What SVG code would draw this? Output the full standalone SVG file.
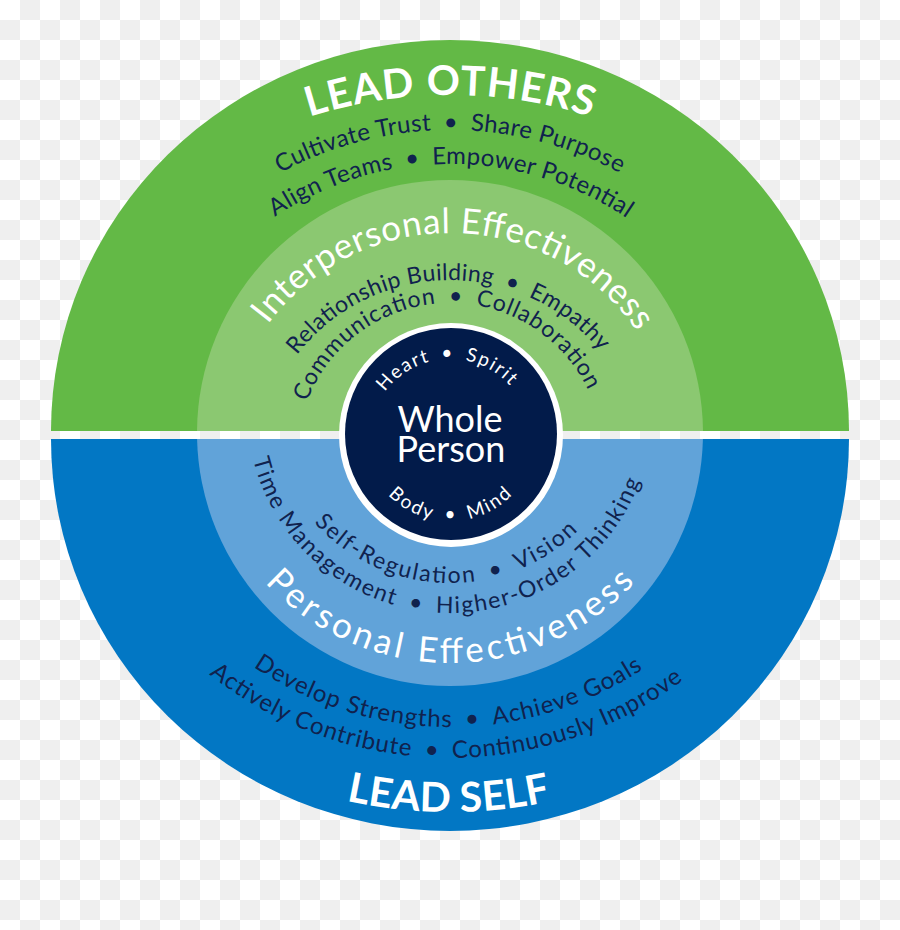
<svg xmlns="http://www.w3.org/2000/svg" xmlns:xlink="http://www.w3.org/1999/xlink" width="900" height="930" viewBox="0 0 900 930">
<style>
.t{font-family:Lato,'Open Sans','Liberation Sans',sans-serif;}
.w{fill:#ffffff;}
.d{fill:#10224e;}
.big{font-size:41px;font-weight:700;}
.mid{font-size:35px;}
.sm{font-size:24px;}
.xs{font-size:23px;}
.core{font-size:19px;}
.name{font-size:36px;}
</style>
<defs>
<pattern id="chk" width="40" height="40" patternUnits="userSpaceOnUse">
<rect width="40" height="40" fill="#ffffff"/>
<rect x="20" y="0" width="20" height="20" fill="#efefef"/>
<rect x="0" y="20" width="20" height="20" fill="#efefef"/>
</pattern>
<clipPath id="top"><rect x="0" y="0" width="900" height="431"/></clipPath>
<clipPath id="bot"><rect x="0" y="439" width="900" height="491"/></clipPath>
<path id="p1" d="M -15,560 A 465 465 0 0 1 915,560"/>
<path id="p2" d="M 93,487 A 357 357 0 0 1 807,487"/>
<path id="p3" d="M 134,480 A 316 316 0 0 1 766,480"/>
<path id="p4" d="M 223,460 A 227 227 0 0 1 677,460"/>
<path id="p5" d="M 256,474 A 194 194 0 0 1 644,474"/>
<path id="p6" d="M 297,456 A 153 153 0 0 1 603,456"/>
<path id="p7" d="M 369,440 A 81 81 0 0 1 531,440"/>
<path id="p8" d="M 363,434 A 87 87 0 0 0 537,434"/>
<path id="p9" d="M 267,400 A 183 183 0 0 0 633,400"/>
<path id="p10" d="M 247,410 A 203 203 0 0 0 653,410"/>
<path id="p11" d="M 197,410 A 253 253 0 0 0 703,410"/>
<path id="p12" d="M 99,376 A 351 351 0 0 0 801,376"/>
<path id="p13" d="M 62,370 A 388 388 0 0 0 838,370"/>
<path id="p14" d="M -32,330 A 482 482 0 0 0 932,330"/>
</defs>
<rect width="900" height="930" fill="url(#chk)"/>

<g id="lead-others">
<path d="M 51,431 A 399 391 0 0 1 849,431 Z" fill="#63b946"/>
<text class="t w big"><textPath xlink:href="#p1" href="#p1" startOffset="50%" text-anchor="middle" textLength="286">LEAD OTHERS</textPath></text>
<text class="t d sm"><textPath xlink:href="#p2" href="#p2" startOffset="50%" text-anchor="middle" textLength="354">Cultivate Trust&#8194;•&#8194;Share Purpose</textPath></text>
<text class="t d sm"><textPath xlink:href="#p3" href="#p3" startOffset="50.1%" text-anchor="middle" textLength="373">Align Teams&#8194;•&#8194;Empower Potential</textPath></text>
</g>

<g id="lead-self">
<path d="M 51,439 A 399 392 0 0 0 849,439 Z" fill="#0277c4"/>
<text class="t d sm"><textPath xlink:href="#p12" href="#p12" startOffset="49.8%" text-anchor="middle" textLength="413">Develop Strengths&#8194;•&#8194;Achieve Goals</textPath></text>
<text class="t d sm"><textPath xlink:href="#p13" href="#p13" startOffset="49.6%" text-anchor="middle" textLength="510">Actively Contribute&#8194;•&#8194;Continuously Improve</textPath></text>
<text class="t w big"><textPath xlink:href="#p14" href="#p14" startOffset="49.9%" text-anchor="middle" textLength="206">LEAD SELF</textPath></text>
</g>

<g id="interpersonal-effectiveness">
<circle cx="450" cy="433" r="253" fill="#8bc871" clip-path="url(#top)"/>
<text class="t w mid"><textPath xlink:href="#p4" href="#p4" startOffset="50.6%" text-anchor="middle" textLength="431">Interpersonal Effectiveness</textPath></text>
<text class="t d xs"><textPath xlink:href="#p5" href="#p5" startOffset="49.6%" text-anchor="middle" textLength="348">Relationship Building&#8194;•&#8194;Empathy</textPath></text>
<text class="t d xs"><textPath xlink:href="#p6" href="#p6" startOffset="48.7%" text-anchor="middle" textLength="357">Communication&#8194;•&#8194;Collaboration</textPath></text>
</g>

<g id="personal-effectiveness">
<circle cx="450" cy="433" r="253" fill="#61a3d9" clip-path="url(#bot)"/>
<text class="t d xs"><textPath xlink:href="#p9" href="#p9" startOffset="49%" text-anchor="middle" textLength="295">Self-Regulation&#8194;•&#8194;Vision</textPath></text>
<text class="t d xs"><textPath xlink:href="#p10" href="#p10" startOffset="48.2%" text-anchor="middle" textLength="515">Time Management&#8194;•&#8194;Higher-Order Thinking</textPath></text>
<text class="t w mid"><textPath xlink:href="#p11" href="#p11" startOffset="50%" text-anchor="middle" textLength="415">Personal Effectiveness</textPath></text>
</g>

<g id="whole-person">
<circle cx="451" cy="435" r="112" fill="#ffffff"/>
<circle cx="451" cy="434" r="106" fill="#021b4a"/>
<text class="t w core"><textPath xlink:href="#p7" href="#p7" startOffset="48.4%" text-anchor="middle" textLength="143">Heart&#8194;•&#8194;Spirit</textPath></text>
<text class="t w name" x="450" y="432" text-anchor="middle">Whole</text>
<text class="t w name" x="451" y="462" text-anchor="middle">Person</text>
<text class="t w core"><textPath xlink:href="#p8" href="#p8" startOffset="50%" text-anchor="middle" textLength="138">Body&#8194;•&#8194;Mind</textPath></text>
</g>
</svg>
